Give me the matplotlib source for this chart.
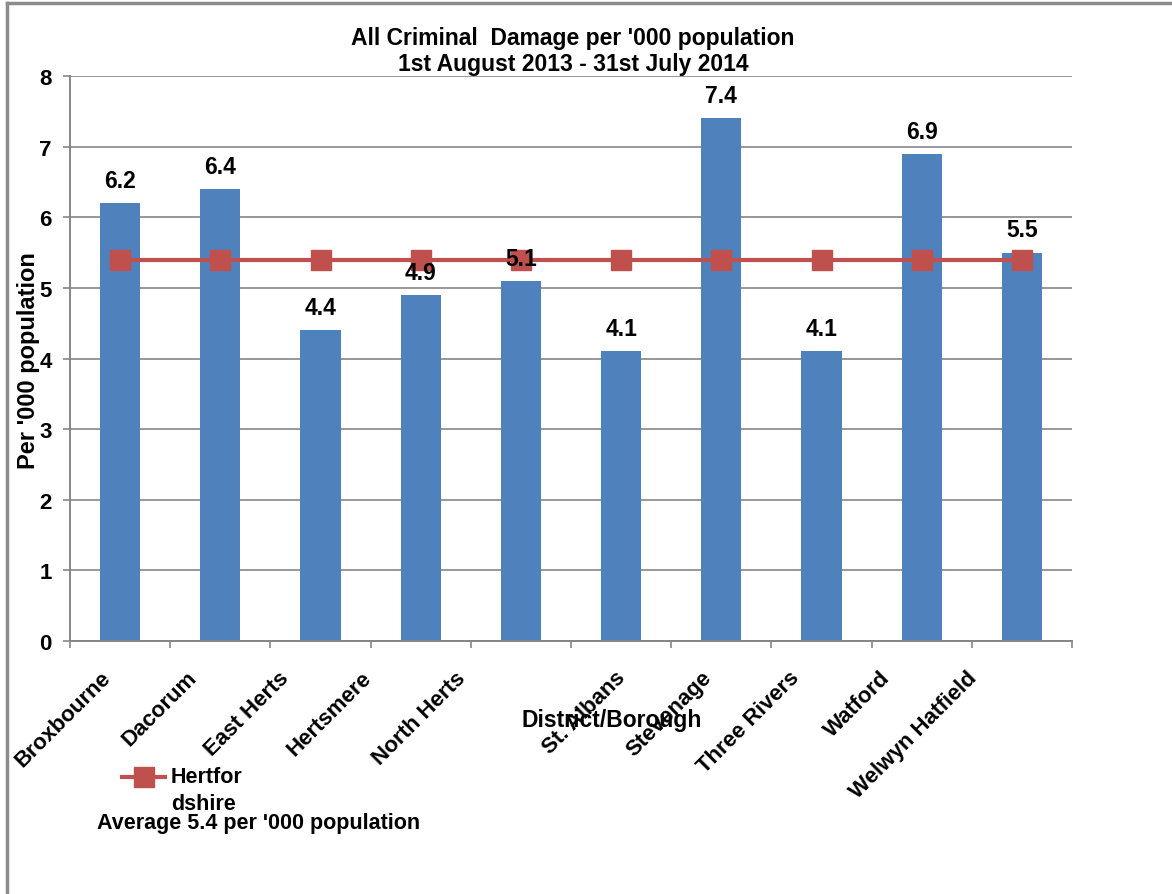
import matplotlib
matplotlib.use("Agg")
import matplotlib.pyplot as plt
from matplotlib.lines import Line2D

# Data
districts = ["Broxbourne", "Dacorum", "East Herts", "Hertsmere", "North Herts",
             "St. Albans", "Stevenage", "Three Rivers", "Watford", "Welwyn Hatfield"]
rate_per_000 = [6.2, 6.4, 4.4, 4.9, 5.1, 4.1, 7.4, 4.1, 6.9, 5.5]
county_average = [5.4] * len(districts)
y_ticks = [0, 1, 2, 3, 4, 5, 6, 7, 8]

# Style
BAR_BLUE = "#4F81BD"
LINE_RED = "#C0504D"
GRID_GREY = "#868686"
FONT = "Liberation Sans"
# horizontal nudge (points) of each rotated category label's end
label_nudge = [-9, -19, -25, -38, -42, 1, -9, -18, -25, -35]

plt.rcParams["font.family"] = [FONT, "DejaVu Sans"]
plt.rcParams["font.weight"] = "bold"

W, H = 1172, 895
fig = plt.figure(figsize=(W / 100, H / 100), dpi=100)
ax = fig.add_axes([70 / W, (H - 642) / H, 1002 / W, (642 - 77) / H])

x = list(range(len(districts)))
ax.bar(x, rate_per_000, width=0.4, color=BAR_BLUE, zorder=2)
ax.plot(x, county_average, color=LINE_RED, linewidth=3, marker="s",
        markersize=15, markerfacecolor=LINE_RED, markeredgecolor=LINE_RED,
        zorder=3)

for xi, v in zip(x, rate_per_000):
    ax.annotate(f"{v:.1f}", xy=(xi, v), xytext=(0, 8), textcoords="offset points",
                ha="center", va="bottom", fontsize=16.5, fontweight="bold")

ax.set_xlim(-0.5, len(districts) - 0.5)
ax.set_ylim(0, 8)
ax.set_yticks(y_ticks)
ax.set_yticklabels([str(t) for t in y_ticks], fontsize=16, fontweight="bold")
ax.yaxis.grid(True, color=GRID_GREY, linewidth=1.2, zorder=0)
ax.set_axisbelow(True)

# category boundaries as ticks, labels drawn separately
ax.set_xticks([i - 0.5 for i in range(len(districts) + 1)])
ax.set_xticklabels([])
ax.tick_params(axis="x", direction="out", length=5, color=GRID_GREY, width=1.2)
ax.tick_params(axis="y", direction="out", length=5, color=GRID_GREY, width=1.2, pad=8)

for s in ["top", "right"]:
    ax.spines[s].set_visible(False)
for s in ["left", "bottom"]:
    ax.spines[s].set_color(GRID_GREY)
    ax.spines[s].set_linewidth(1.4)

for xi, name, dx in zip(x, districts, label_nudge):
    ax.annotate(name, xy=(xi, 0), xytext=(dx, -24), textcoords="offset points",
                rotation=45, rotation_mode="anchor", ha="right", va="center",
                fontsize=16, fontweight="bold", annotation_clip=False)

fig.text(29 / W, 1 - 361 / H, "Per '000 population", rotation=90,
         ha="center", va="center", fontsize=17, fontweight="bold")
fig.text(612 / W, 1 - 720 / H, "District/Borough", ha="center", va="center",
         fontsize=16.5, fontweight="bold")

fig.text(573 / W, 1 - 38 / H, "All Criminal  Damage per '000 population",
         ha="center", va="center", fontsize=16.5, fontweight="bold")
fig.text(573 / W, 1 - 64 / H, "1st August 2013 - 31st July 2014",
         ha="center", va="center", fontsize=16.5, fontweight="bold")

# legend entry
fig.add_artist(Line2D([122 / W, 165 / W], [1 - 778 / H, 1 - 778 / H],
                      color=LINE_RED, linewidth=3))
fig.add_artist(Line2D([143.5 / W], [1 - 778 / H], marker="s", markersize=15,
                      color=LINE_RED, linestyle="none"))
fig.text(171 / W, 1 - 778 / H, "Hertfor", ha="left", va="center",
         fontsize=15.5, fontweight="bold")
fig.text(171 / W, 1 - 805 / H, "dshire", ha="left", va="center",
         fontsize=15.5, fontweight="bold")
fig.text(97 / W, 1 - 824 / H, "Average 5.4 per '000 population", ha="left",
         va="center", fontsize=15.5, fontweight="bold")

# outer frame
fig.add_artist(Line2D([7 / W, 7 / W], [0, 1 - 4 / H], color="#8C8C8C", linewidth=2.5))
fig.add_artist(Line2D([7 / W, 1], [1 - 4 / H, 1 - 4 / H], color="#8C8C8C", linewidth=2.5))

fig.savefig("out.png", dpi=100)
